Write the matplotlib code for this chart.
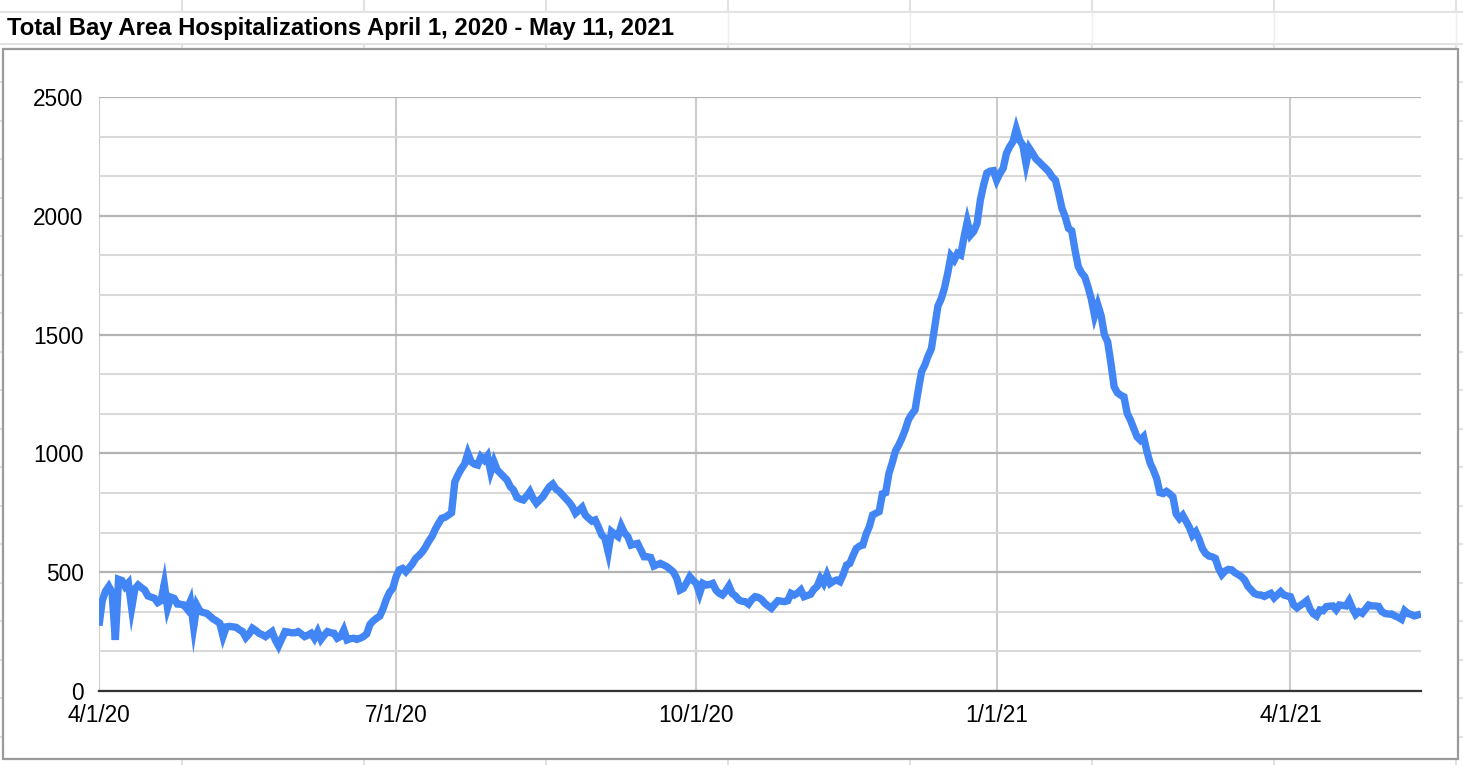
import numpy as np
import pandas as pd
import matplotlib
matplotlib.use("Agg")
import matplotlib.pyplot as plt
from matplotlib.patches import Rectangle

plt.rcParams["font.family"] = ["Liberation Sans", "DejaVu Sans"]

# daily totals, starting 4/1/20
hospitalized = [
    275, 380, 420, 440, 415, 215, 470, 465, 440, 455,
    350, 430, 446, 435, 425, 400, 395, 390, 372, 380,
    450, 350, 395, 390, 366, 365, 362, 345, 378, 270,
    360, 335, 330, 327, 315, 303, 295, 285, 230, 270,
    272, 270, 268, 258, 250, 225, 240, 264, 255, 243,
    237, 229, 240, 250, 215, 190, 220, 250, 248, 245,
    245, 250, 240, 229, 235, 243, 222, 250, 217, 235,
    250, 245, 243, 222, 229, 257, 215, 220, 222, 217,
    222, 229, 240, 280, 295, 306, 315, 345, 385, 415,
    432, 480, 510, 516, 502, 518, 535, 558, 570, 585,
    605, 630, 650, 680, 705, 727, 731, 740, 750, 880,
    910, 935, 955, 1000, 965, 955, 951, 986, 972, 990,
    923, 965, 930, 916, 902, 888, 860, 846, 815, 808,
    804, 820, 839, 810, 790, 804, 818, 840, 860, 871,
    850, 840, 825, 810, 795, 776, 748, 760, 773, 740,
    727, 715, 720, 690, 657, 643, 585, 671, 660, 650,
    694, 665, 650, 614, 618, 621, 593, 565, 565, 562,
    526, 532, 537, 530, 523, 512, 500, 474, 425, 432,
    455, 481, 465, 453, 411, 453, 446, 448, 453, 425,
    411, 404, 420, 442, 410, 400, 383, 378, 376, 366,
    385, 397, 394, 385, 369, 358, 348, 365, 380, 378,
    376, 380, 411, 404, 412, 425, 397, 402, 407, 428,
    440, 474, 453, 488, 453, 462, 467, 460, 490, 530,
    537, 570, 600, 610, 614, 660, 692, 741, 748, 755,
    830, 835, 916, 960, 1010, 1035, 1065, 1100, 1143, 1165,
    1183, 1267, 1344, 1372, 1410, 1440, 1530, 1620, 1650, 1695,
    1758, 1831, 1814, 1842, 1835, 1910, 1975, 1919, 1935, 1968,
    2066, 2129, 2180, 2188, 2190, 2150, 2178, 2200, 2263, 2291,
    2312, 2365, 2319, 2298, 2220, 2284, 2263, 2240, 2227, 2213,
    2200, 2185, 2164, 2150, 2094, 2031, 1996, 1947, 1937, 1856,
    1786, 1760, 1743, 1700, 1650, 1580, 1625, 1580, 1500, 1470,
    1380, 1280, 1255, 1245, 1238, 1168, 1140, 1105, 1070, 1056,
    1070, 1010, 960, 930, 895, 835, 831, 840, 830, 817,
    745, 726, 740, 715, 690, 655, 670, 640, 600, 579,
    568, 565, 558, 516, 490, 505, 512, 510, 498, 490,
    481, 467, 440, 425, 410, 405, 404, 398, 405, 411,
    392, 405, 418, 404, 400, 397, 362, 350, 360, 369,
    380, 345, 325, 316, 341, 338, 355, 357, 358, 342,
    362, 360, 358, 380, 348, 322, 334, 327, 345, 362,
    358, 358, 356, 334, 326, 324, 324, 316, 310, 302,
    338, 326, 322, 316, 320, 324,
]
dates = pd.date_range("2020-04-01", periods=len(hospitalized), freq="D")

x_tick_dates = ["2020-04-01", "2020-07-01", "2020-10-01", "2021-01-01", "2021-04-01"]
x_tick_labels = ["4/1/20", "7/1/20", "10/1/20", "1/1/21", "4/1/21"]
y_ticks = [0, 500, 1000, 1500, 2000, 2500]
title = "Total Bay Area Hospitalizations April 1, 2020 - May 11, 2021"

W, H = 1463, 765
fig = plt.figure(figsize=(W / 100, H / 100), dpi=100)

# spreadsheet background (pixel coords)
bg = fig.add_axes([0, 0, 1, 1])
bg.set_xlim(0, W)
bg.set_ylim(H, 0)
bg.axis("off")
cell_col = "#e2e2e2"
for cx in np.arange(182, W, 182):
    bg.plot([cx, cx], [0, H], color=cell_col, lw=1.5, zorder=1)
for ry in [12, 44] + list(np.arange(82, H, 38.5)):
    bg.plot([0, W], [ry, ry], color=cell_col, lw=1.5, zorder=1)
bg.add_patch(Rectangle((0, 13), W, 30, facecolor="white", edgecolor="none", zorder=2))
for cx in np.arange(728, W, 182):
    bg.plot([cx, cx], [13, 43], color="#eeeeee", lw=1.0, zorder=2.5)
bg.text(7, 35, title, fontsize=17.2, fontweight="bold", color="black",
        ha="left", va="baseline", zorder=3)
bg.add_patch(Rectangle((3, 49), 1455, 710, facecolor="white",
                       edgecolor="#9a9a9a", lw=1.6, zorder=4))

# chart
left, right, top, bottom = 99, 1421, 97, 691
ax = fig.add_axes([left / W, 1 - bottom / H, (right - left) / W, (bottom - top) / H])
ax.patch.set_visible(False)
ax.set_zorder(5)

ax.plot(dates, hospitalized, color="#4285f4", lw=5.3, solid_joinstyle="miter",
        solid_capstyle="butt", zorder=5)

ax.set_xlim(dates[0], dates[-1])
ax.set_ylim(0, 2500)
ax.set_xticks(pd.to_datetime(x_tick_dates))
ax.set_xticklabels(x_tick_labels)
ax.set_yticks(y_ticks)
ax.set_yticklabels([str(v) for v in y_ticks])
ax.set_yticks([v for v in np.arange(0, 2501, 2500 / 15) if v % 500 != 0], minor=True)

ax.grid(axis="x", which="major", color="#cccccc", lw=1.5)
ax.grid(axis="y", which="major", color="#b3b3b3", lw=1.6)
ax.grid(axis="y", which="minor", color="#d9d9d9", lw=1.5)
ax.set_axisbelow(True)

for s in ["left", "right", "top"]:
    ax.spines[s].set_visible(False)
ax.spines["bottom"].set_color("#333333")
ax.spines["bottom"].set_linewidth(1.6)
ax.spines["bottom"].set_zorder(4)

ax.tick_params(axis="both", which="both", length=0, labelsize=16.3, colors="black")
ax.tick_params(axis="y", pad=11)
ax.tick_params(axis="x", pad=9)

fig.savefig("out.png", dpi=100)
